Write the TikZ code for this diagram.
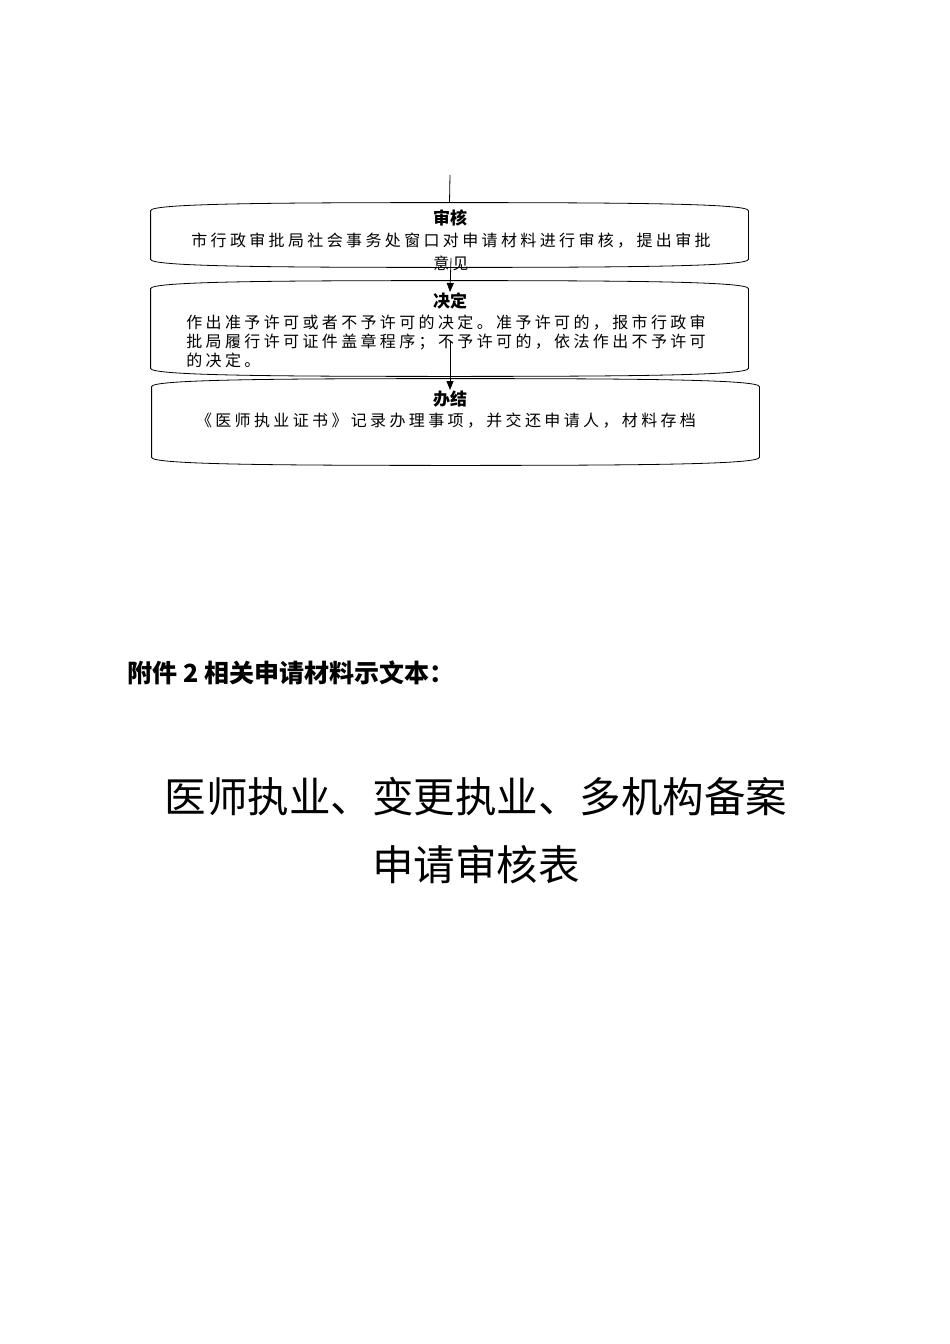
\documentclass[tikz,border=0pt]{standalone}
\usepackage{fontspec}
\setmainfont{Noto Sans CJK SC}
\newfontfamily\boxfont[LetterSpace=21]{Noto Sans CJK SC}
\usetikzlibrary{arrows.meta,calc}

% outline of a flow box: straight sides, slightly bulging top and bottom
\newcommand{\flowframe}[1]{%
  \draw let \p1=(#1.north west), \p2=(#1.south east), \p3=(#1.center) in
    (\x1,\y1-8pt) .. controls (\x1,\y1-1pt) and (\x1+120pt,\y1) .. (\x3,\y1)
    .. controls (\x2-120pt,\y1) and (\x2,\y1-1pt) .. (\x2,\y1-8pt)
    -- (\x2,\y2+8pt) .. controls (\x2,\y2+1pt) and (\x2-120pt,\y2) .. (\x3,\y2)
    .. controls (\x1+120pt,\y2) and (\x1,\y2+1pt) .. (\x1,\y2+8pt) -- cycle;}

\begin{document}
\begin{tikzpicture}[x=1pt,y=-1pt,line width=0.8pt,
  flowbox/.style={draw=none,inner sep=0pt},
  steptitle/.style={inner sep=0pt,font=\fontsize{17}{19}\selectfont\bfseries},
  stepbody/.style={inner sep=0pt,font=\fontsize{16}{19}\boxfont},
  flowarrow/.style={-{Triangle[width=7pt,length=9pt]}}]
\useasboundingbox (0,0) rectangle (950,1344);

% boxes
\node[flowbox,minimum width=597pt,minimum height=64pt] (shenhe) at (449.5,235) {};
\node[flowbox,minimum width=597pt,minimum height=95pt] (jueding) at (449.5,328.5) {};
\node[flowbox,minimum width=607pt,minimum height=86pt] (banjie) at (455.5,422) {};
\foreach \bx in {shenhe,jueding,banjie} {
  \flowframe{\bx}
}

% titles
\node[steptitle] (shenhe title) at (450,218) {审核};
\node[steptitle,anchor=north] (jueding title) at (450,292) {决定};
\node[steptitle,anchor=north] (banjie title) at (450,390) {办结};

% texts
\node[stepbody,align=center] (shenhe text) at (451,252)
  {市行政审批局社会事务处窗口对申请材料进行审核，提出审批\\[4pt]意见};
\node[stepbody,align=left,anchor=west] (jueding text) at (186,341)
  {作出准予许可或者不予许可的决定。准予许可的，报市行政审\\
   批局履行许可证件盖章程序；不予许可的，依法作出不予许可\\
   的决定。};
\node[stepbody] (banjie text) at (446,421)
  {《医师执业证书》记录办理事项，并交还申请人，材料存档};

% connectors
\coordinate (start) at (450,175);
\draw (start) -- (shenhe.north);
\draw[flowarrow] (shenhe text.center) ++(0,6) -- (jueding title.north);
\draw[flowarrow] (jueding text.center -| jueding title) -- (banjie title.north);

% attachment heading
\node[anchor=west,inner sep=0pt,font=\fontsize{25}{28}\selectfont\bfseries] (fujian) at (127,673)
  {附件 2 相关申请材料示文本：};

% form title
\node[inner sep=0pt,align=center,font=\fontsize{41.5}{68}\selectfont] (formtitle) at (476,831)
  {医师执业、变更执业、多机构备案\\申请审核表};
\end{tikzpicture}
\end{document}
